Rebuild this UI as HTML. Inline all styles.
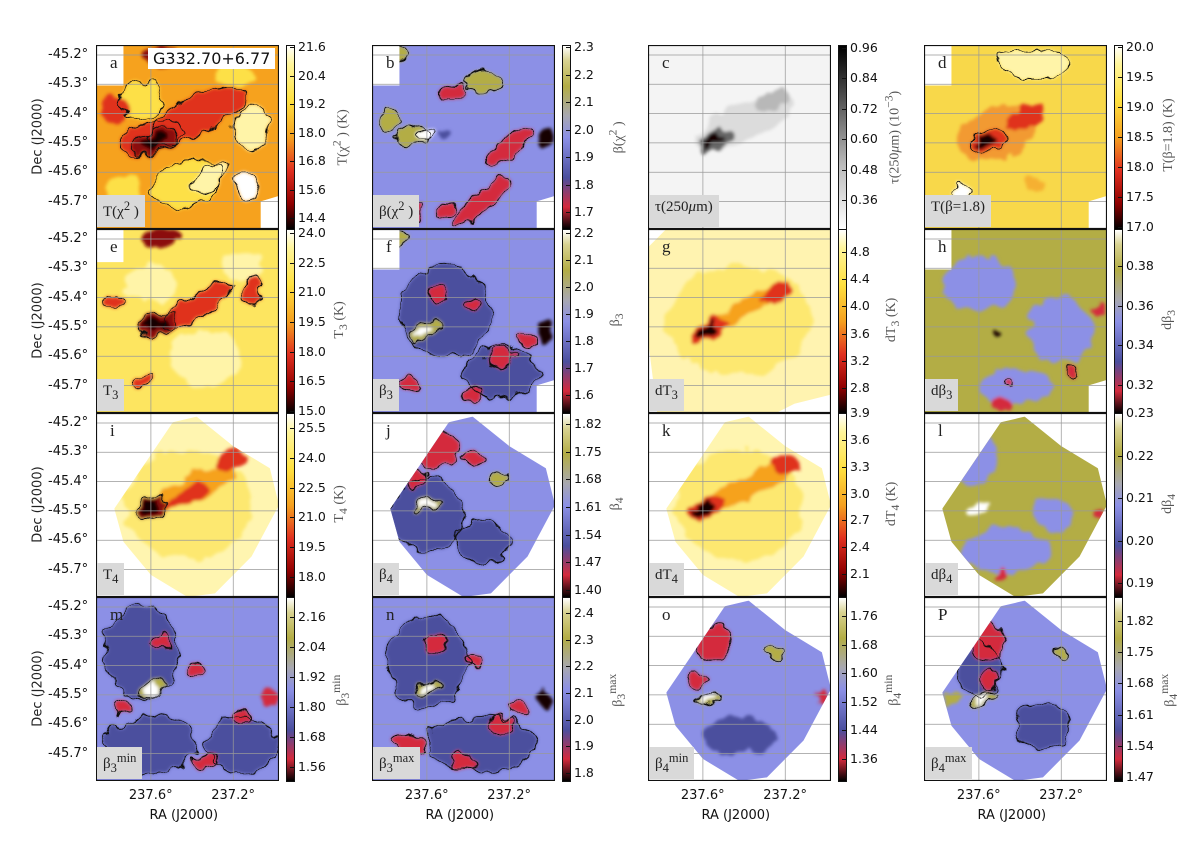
<!DOCTYPE html>
<html><head><meta charset="utf-8">
<style>
body{margin:0;background:#fff;width:1200px;height:842px;position:relative;overflow:hidden;font-family:"DejaVu Sans","Liberation Sans",sans-serif;}
.abs{position:absolute;}
.tick{position:absolute;font-size:12.5px;color:#111;white-space:nowrap;line-height:1;}
.cblab{position:absolute;font-family:"Liberation Serif",serif;font-size:14px;color:#555;white-space:nowrap;transform:rotate(-90deg);transform-origin:center center;}
.letter{position:absolute;font-family:"Liberation Serif",serif;font-size:17px;color:#222;}
.namebox{position:absolute;background:#d9d9d9;font-family:"Liberation Serif",serif;font-size:15px;color:#222;padding:4px 6px;}
.declab{position:absolute;font-size:13px;color:#222;transform:rotate(-90deg);white-space:nowrap;}
</style></head>
<body>
<div id="root"></div>
<script>
const colX=[96,372,648,924], rowY=[45,229,413,597], PW=183, PH=184;
const decTicks=["-45.2°","-45.3°","-45.4°","-45.5°","-45.6°","-45.7°"];
const raTicks=["237.6°","237.2°"];
const raFrac=[0.30,0.75];
// colorbar tick labels per panel
const ticksA=["21.6","20.4","19.2","18.0","16.8","15.6","14.4"];
const ticksB=["2.3","2.2","2.1","2.0","1.9","1.8","1.7"];
const ticksC=["0.96","0.84","0.72","0.60","0.48","0.36"];
const ticksD=["20.0","19.5","19.0","18.5","18.0","17.5","17.0"];
const ticksE=["24.0","22.5","21.0","19.5","18.0","16.5","15.0"];
const ticksF=["2.2","2.1","2.0","1.9","1.8","1.7","1.6"];
const ticksG=["4.8","4.4","4.0","3.6","3.2","2.8"];
const ticksH=["0.38","0.36","0.34","0.32"];
const ticksI=["25.5","24.0","22.5","21.0","19.5","18.0"];
const ticksJ=["1.82","1.75","1.68","1.61","1.54","1.47","1.40"];
const ticksK=["3.9","3.6","3.3","3.0","2.7","2.4","2.1"];
const ticksL=["0.23","0.22","0.21","0.20","0.19"];
const ticksM=["2.16","2.04","1.92","1.80","1.68","1.56"];
const ticksN=["2.4","2.3","2.2","2.1","2.0","1.9","1.8"];
const ticksO=["1.76","1.68","1.60","1.52","1.44","1.36"];
const ticksP=["1.82","1.75","1.68","1.61","1.54","1.47"];

const Y='#fde047',LY='#fff4a8',O='#f6a21e',R='#e0301e',DR='#8b0a0a',K='#160000',W='#ffffff';
const BL='#8c90e6',DB='#4b4f9e',RD='#d42a3c',OL='#b3ad45',GR='#a8a8b0';
const TGRAD='linear-gradient(to bottom,#fff 0%,#fff59a 10%,#ffe040 30%,#f5a020 50%,#e03020 68%,#900000 86%,#000 100%)';
const BGRAD='linear-gradient(to bottom,#fff 0%,#d8d290 8%,#b3ad45 22%,#a8a8b0 38%,#8c90e6 50%,#4b4f9e 72%,#d42a3c 88%,#000 100%)';
const GGRAD='linear-gradient(to bottom,#000 0%,#555 30%,#bbb 65%,#fff 100%)';
const MASK={
 full:"15,0 100,0 100,82 90,85 90,100 0,100 0,22 15,22",
 fullc:"0,0 100,0 100,100 0,100",
 e:"15,0 100,0 100,100 0,100 0,18 15,18",
 g:"10,0 100,0 100,90 80,95 70,100 5,100 0,60 0,10",
 diamond:"10,52 25,30 42,5 55,2 75,18 95,30 100,50 85,78 65,98 50,100 30,88 15,70",
 m:"0,0 100,0 100,100 0,100"
};
// blobs: [cx,cy,rx,ry,rot,color,outline]
const panels=[
 {id:'a',r:0,c:0,name:'T(χ<sup>2</sup> )',bg:O,mask:'full',grad:TGRAD,ticks:ticksA,ty:[47,218],lab:'T(χ<sup>2</sup> ) (K)',
  blobs:[[25,30,12,10,0,Y,1],[50,75,20,12,-20,Y,1],[15,80,10,10,0,Y,0],[75,15,10,6,0,Y,0],[55,38,30,10,-25,R,1],[30,50,18,8,-15,R,1],[10,35,8,8,0,R,0],[35,5,10,5,0,DR,0],[85,45,10,12,0,LY,1],[62,72,12,6,-30,LY,1],[82,78,7,8,0,W,1],[33,52,12,6,-20,DR,1],[32,52,7,3.5,-20,K,0]]},
 {id:'b',r:0,c:1,name:'β(χ<sup>2</sup> )',bg:BL,mask:'full',grad:BGRAD,ticks:ticksB,ty:[47,212],lab:'β(χ<sup>2</sup> )',
  blobs:[[45,25,6,4,0,RD,1],[75,55,15,5,-40,RD,1],[60,85,20,5,-40,RD,1],[95,50,4,6,0,K,0],[20,90,8,5,0,RD,1],[40,90,5,4,0,RD,1],[10,5,8,5,0,OL,1],[60,20,10,6,0,OL,1],[10,40,6,6,0,OL,1],[22,50,10,5,-20,OL,1],[30,48,6,2.5,-20,W,1],[40,48,3,3,0,DB,0]]},
 {id:'c',r:0,c:2,name:'τ(250<i>μ</i>m)',bg:'#f4f4f4',mask:'fullc',grad:GGRAD,ticks:ticksC,ty:[48,200],lab:'τ(250<i>μ</i>m) (10<sup>−3</sup>)',
  blobs:[[52,42,30,10,-25,'#dcdcdc',0],[68,30,10,5,-30,'#b8b8b8',0],[36,52,10,5,-20,'#666',0],[35,52,6,3,-20,K,0]]},
 {id:'d',r:0,c:3,name:'T(β=1.8)',bg:'#f8d84a',mask:'full',grad:TGRAD,ticks:ticksD,ty:[47,227],lab:'T(β=1.8) (K)',
  blobs:[[60,10,20,8,0,LY,1],[40,48,22,14,-20,'#f29a30',0],[55,40,12,6,-25,R,0],[35,52,10,6,-20,R,1],[33,52,6,3.5,-20,K,0],[20,80,5,4,0,W,1],[60,75,6,4,0,'#f5b030',0]]},
 {id:'e',r:1,c:0,name:'T<sub>3</sub>',bg:'#fde560',mask:'e',grad:TGRAD,ticks:ticksE,ty:[233,411],lab:'T<sub>3</sub> (K)',
  blobs:[[30,30,15,10,0,LY,0],[60,70,20,15,0,LY,0],[80,20,12,8,0,LY,0],[55,42,22,6,-30,R,1],[85,33,5,8,0,R,1],[10,40,5,5,0,R,1],[35,5,10,5,0,DR,0],[25,83,4,3,0,R,1],[33,52,11,6,-20,DR,1],[32,52,7,3.5,-20,K,0]]},
 {id:'f',r:1,c:1,name:'β<sub>3</sub>',bg:BL,mask:'full',grad:BGRAD,ticks:ticksF,ty:[233,395],lab:'β<sub>3</sub>',
  blobs:[[40,45,25,25,0,DB,1],[70,78,20,14,0,DB,1],[35,35,5,4,0,RD,1],[55,40,5,4,0,RD,1],[85,60,5,4,0,RD,1],[20,85,6,4,0,RD,1],[55,90,6,4,0,RD,1],[70,70,8,5,0,RD,1],[95,55,4,6,0,K,0],[12,5,8,4,0,OL,1],[28,55,9,4,-20,OL,1],[28,55,5,2,-20,W,0]]},
 {id:'g',r:1,c:2,name:'dT<sub>3</sub>',bg:'#fff3b0',mask:'g',grad:TGRAD,ticks:ticksG,ty:[252,388],lab:'dT<sub>3</sub> (K)',
  blobs:[[50,50,40,30,0,'#fde870',0],[55,42,22,5,-30,O,0],[70,35,8,4,-30,R,0],[33,55,10,5,-25,R,0],[32,55,6,3,-25,K,0]]},
 {id:'h',r:1,c:3,name:'dβ<sub>3</sub>',bg:OL,mask:'full',grad:BGRAD,ticks:ticksH,ty:[266,385],lab:'dβ<sub>3</sub>',
  blobs:[[30,30,20,15,0,BL,0],[75,55,18,18,0,BL,0],[50,85,20,10,0,BL,0],[45,85,3,3,0,RD,1],[96,45,3,5,0,RD,0],[82,78,3,3,0,RD,1],[42,95,5,4,0,RD,0],[40,57,2,2,0,K,0]]},
 {id:'i',r:2,c:0,name:'T<sub>4</sub>',bg:'#fff5b0',mask:'diamond',grad:TGRAD,ticks:ticksI,ty:[428,577],lab:'T<sub>4</sub> (K)',
  blobs:[[50,50,35,30,0,'#fde870',0],[55,40,25,7,-25,O,0],[75,25,8,5,0,R,0],[50,45,12,4,-25,R,0],[30,52,10,5,-20,DR,1],[29,52,6,3,-20,K,0]]},
 {id:'j',r:2,c:1,name:'β<sub>4</sub>',bg:BL,mask:'diamond',grad:BGRAD,ticks:ticksJ,ty:[424,590],lab:'β<sub>4</sub>',
  blobs:[[30,55,20,20,0,DB,1],[60,70,15,12,0,DB,1],[35,20,12,10,0,RD,1],[55,25,6,5,0,RD,1],[25,35,6,5,0,RD,1],[70,35,5,4,0,OL,1],[30,50,8,3,-20,OL,1],[30,50,5,2,-20,W,0]]},
 {id:'k',r:2,c:2,name:'dT<sub>4</sub>',bg:'#fff5b0',mask:'diamond',grad:TGRAD,ticks:ticksK,ty:[413,574],lab:'dT<sub>4</sub> (K)',
  blobs:[[50,50,35,30,0,'#fde870',0],[55,40,25,6,-25,O,0],[75,28,8,5,0,R,0],[32,52,10,5,-20,R,0],[31,52,6,3,-20,K,0]]},
 {id:'l',r:2,c:3,name:'dβ<sub>4</sub>',bg:OL,mask:'diamond',grad:BGRAD,ticks:ticksL,ty:[413,583],lab:'dβ<sub>4</sub>',
  blobs:[[25,25,15,15,0,BL,0],[45,75,25,12,0,BL,0],[70,55,10,10,0,BL,0],[30,52,8,3,-20,W,0],[95,55,3,4,0,RD,0],[42,88,3,3,0,RD,0]]},
 {id:'m',r:3,c:0,name:'β<sub>3</sub><sup>min</sup>',bg:BL,mask:'m',grad:BGRAD,ticks:ticksM,ty:[617,767],lab:'β<sub>3</sub><sup>min</sup>',
  blobs:[[25,30,20,25,0,DB,1],[30,80,25,15,0,DB,1],[80,80,20,15,0,DB,1],[35,25,5,4,0,RD,1],[55,40,5,4,0,RD,1],[80,65,5,4,0,RD,1],[15,60,5,4,0,RD,1],[95,55,4,6,0,RD,0],[60,90,6,4,0,RD,1],[30,50,8,3,-20,OL,1],[30,50,5,2,-20,W,0]]},
 {id:'n',r:3,c:1,name:'β<sub>3</sub><sup>max</sup>',bg:BL,mask:'m',grad:BGRAD,ticks:ticksN,ty:[613,773],lab:'β<sub>3</sub><sup>max</sup>',
  blobs:[[30,35,22,25,0,DB,1],[60,80,30,15,0,DB,1],[35,25,6,5,0,RD,1],[55,35,5,4,0,RD,1],[80,60,6,4,0,RD,1],[20,80,8,5,0,RD,1],[50,90,8,5,0,RD,1],[70,70,6,5,0,RD,1],[95,55,4,6,0,K,0],[30,50,8,3,-20,OL,1],[30,50,5,2,-20,W,0]]},
 {id:'o',r:3,c:2,name:'β<sub>4</sub><sup>min</sup>',bg:BL,mask:'diamond',grad:BGRAD,ticks:ticksO,ty:[616,759],lab:'β<sub>4</sub><sup>min</sup>',
  blobs:[[50,75,20,10,0,DB,0],[37,25,10,10,0,RD,1],[25,45,6,5,0,RD,1],[70,30,5,3,0,OL,1],[95,55,3,4,0,RD,0],[33,55,8,3,-15,OL,1],[32,55,5,2,-15,W,0]]},
 {id:'p',r:3,c:3,name:'β<sub>4</sub><sup>max</sup>',bg:BL,mask:'diamond',grad:BGRAD,ticks:ticksP,ty:[621,777],lab:'β<sub>4</sub><sup>max</sup>',
  blobs:[[30,40,12,15,0,DB,1],[65,70,15,12,0,DB,1],[35,25,10,10,0,RD,1],[35,45,6,5,0,RD,1],[75,30,4,3,0,OL,1],[15,55,5,3,0,OL,0],[33,55,8,3,-15,OL,1],[32,55,5,2,-15,W,0]]}
];
const root=document.getElementById('root');
function add(html){root.insertAdjacentHTML('beforeend',html);}
panels.forEach((p,pi)=>{
  const x=colX[p.c], y=rowY[p.r];
  let fills='', outlines='';
  p.blobs.forEach(b=>{
    const e=`<ellipse cx="${b[0]}" cy="${b[1]}" rx="${b[2]}" ry="${b[3]}" transform="rotate(${b[4]} ${b[0]} ${b[1]})"`;
    fills+=e+` fill="${b[5]}"/>`;
    if(b[6]) outlines+=e+` fill="none" stroke="#111" stroke-width="0.5"/>`;
  });
  let grid='';
  for(let i=0;i<6;i++){const gy=(10+i*29.3)/PH*100;grid+=`<line x1="0" x2="100" y1="${gy}" y2="${gy}" stroke="#999" stroke-width="0.4"/>`;}
  raFrac.forEach(f=>{grid+=`<line y1="0" y2="100" x1="${f*100}" x2="${f*100}" stroke="#999" stroke-width="0.4"/>`;});
  add(`<svg class="abs" style="left:${x}px;top:${y}px" width="${PW}" height="${PH}" viewBox="0 0 100 100" preserveAspectRatio="none">
   <defs><clipPath id="cl${p.id}"><polygon points="${MASK[p.mask]}"/></clipPath>
   <filter id="bl${p.id}" x="-20%" y="-20%" width="140%" height="140%"><feTurbulence type="fractalNoise" baseFrequency="0.12" numOctaves="2" seed="${pi+3}" result="n"/><feDisplacementMap in="SourceGraphic" in2="n" scale="9" xChannelSelector="R" yChannelSelector="G" result="d"/><feGaussianBlur in="d" stdDeviation="0.9"/></filter>
   <filter id="ol${p.id}" x="-20%" y="-20%" width="140%" height="140%"><feTurbulence type="fractalNoise" baseFrequency="0.12" numOctaves="2" seed="${pi+3}" result="n"/><feDisplacementMap in="SourceGraphic" in2="n" scale="9" xChannelSelector="R" yChannelSelector="G"/></filter></defs>
   <g clip-path="url(#cl${p.id})"><rect width="100" height="100" fill="${p.bg}"/><g filter="url(#bl${p.id})">${fills}</g><g filter="url(#ol${p.id})">${outlines}</g></g>
   ${grid}<rect x="0" y="0" width="100" height="100" fill="none" stroke="#111" stroke-width="1.2"/></svg>`);
  add(`<div class="letter" style="left:${x+14}px;top:${y+8}px">${p.id==='p'?'P':p.id}</div>`);
  add(`<div class="namebox" style="left:${x+1}px;top:${y+PH-34}px;height:24px">${p.name}</div>`);
  const cbx=x+PW+7;
  add(`<div class="abs" style="left:${cbx}px;top:${y}px;width:7px;height:${PH-1}px;background:${p.grad};border:1px solid #111"></div>`);
  const n=p.ticks.length;
  p.ticks.forEach((t,i)=>{
    const ty=p.ty[0]+(p.ty[1]-p.ty[0])*i/(n-1);
    add(`<div class="tick" style="left:${cbx+12}px;top:${ty-6}px">${t}</div>`);
    add(`<div class="abs" style="left:${cbx+4}px;top:${ty}px;width:5px;height:1px;background:#111"></div>`);
  });
  add(`<div class="cblab" style="left:${cbx+55-60}px;top:${y+PH/2-10}px;width:120px;text-align:center">${p.lab}</div>`);
});
// Dec axis for column 1
rowY.forEach((y,r)=>{
  decTicks.forEach((t,i)=>{
    add(`<div class="tick" style="left:${colX[0]-48}px;top:${y+10+i*29.3-7}px;font-size:13px">${t}</div>`);
  });
  add(`<div class="declab" style="left:-22px;top:${y+PH/2-8}px;width:120px;text-align:center">Dec (J2000)</div>`);
});
// RA axis for bottom row
colX.forEach(x=>{
  raFrac.forEach((f,i)=>{
    add(`<div class="tick" style="left:${x+f*PW-22}px;top:${rowY[3]+PH+8}px;font-size:13px">${raTicks[i]}</div>`);
  });
  add(`<div class="tick" style="left:${x+PW/2-38}px;top:${rowY[3]+PH+28}px;font-size:13px">RA (J2000)</div>`);
});
add(`<div class="abs" style="left:${colX[0]+52}px;top:${rowY[0]+3}px;background:#fff;padding:1px 5px;font-size:16px;color:#111">G332.70+6.77</div>`);
</script>
</body></html>
